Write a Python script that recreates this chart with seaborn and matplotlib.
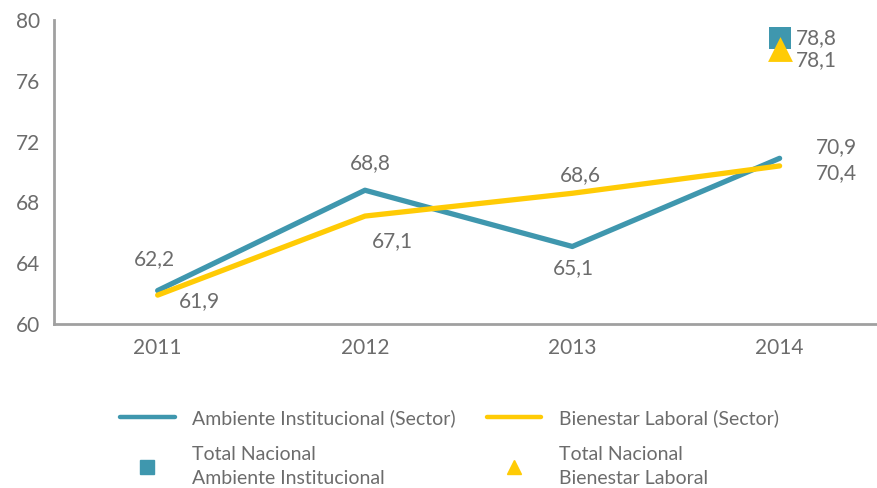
import matplotlib
matplotlib.use("Agg")
import matplotlib.pyplot as plt
import seaborn as sns
import pandas as pd
from matplotlib.lines import Line2D

years = ["2011", "2012", "2013", "2014"]
ambiente = [62.2, 68.8, 65.1, 70.9]
bienestar = [61.9, 67.1, 68.6, 70.4]
total_ambiente = 78.8
total_bienestar = 78.1
yticks = [60, 64, 68, 72, 76, 80]

TEAL = "#3F97AE"
YELLOW = "#FFCB05"
GREY_TXT = "#6c6c6c"
AXIS = "#a0a0a0"

sns.set_theme(style="white")
plt.rcParams["font.family"] = ["Lato", "DejaVu Sans"]

df = pd.DataFrame({
    "x": list(range(4)) * 2,
    "value": ambiente + bienestar,
    "serie": ["Ambiente Institucional (Sector)"] * 4 + ["Bienestar Laboral (Sector)"] * 4,
})

fig = plt.figure(figsize=(8.78, 4.88), dpi=100)
ax = fig.add_axes([54 / 878, 1 - 324 / 488, 1 - 54 / 878 + 0.006, (324 - 20) / 488])

sns.lineplot(data=df, x="x", y="value", hue="serie",
             palette=[TEAL, YELLOW], linewidth=3.8, ax=ax, legend=False,
             solid_capstyle="round")

ax.scatter([3], [total_ambiente], marker="s", s=250, color=TEAL, zorder=5, linewidths=0)
ax.scatter([3], [total_bienestar], marker="^", s=320, color=YELLOW, zorder=6, linewidths=0)

fs = 15
def lab(x, y, s, dx, dy, ha="center"):
    ax.annotate(s, (x, y), xytext=(dx, dy), textcoords="offset points",
                ha=ha, va="center", fontsize=fs, color=GREY_TXT)

fmt = lambda v: f"{v:.1f}".replace(".", ",")
lab(0, ambiente[0], fmt(ambiente[0]), -2, 22.5)
lab(0, bienestar[0], fmt(bienestar[0]), 30, -4)
lab(1, ambiente[1], fmt(ambiente[1]), 3.6, 19.4)
lab(1, bienestar[1], fmt(bienestar[1]), 20, -18)
lab(2, bienestar[2], fmt(bienestar[2]), 6, 13)
lab(2, ambiente[2], fmt(ambiente[2]), 1, -15.5)
lab(3, ambiente[3], fmt(ambiente[3]), 26, 8, ha="left")
lab(3, bienestar[3], fmt(bienestar[3]), 26, -5, ha="left")
lab(3, total_ambiente, fmt(total_ambiente), 11.5, 0, ha="left")
lab(3, total_bienestar, fmt(total_bienestar), 11.5, -8, ha="left")

ax.set_xlim(-0.5, 3.5)
ax.set_ylim(60, 80)
ax.set_yticks(yticks)
ax.set_yticklabels([str(v) for v in yticks], fontsize=fs, color=GREY_TXT)
ax.set_xticks(range(4))
ax.set_xticklabels(years, fontsize=fs, color=GREY_TXT)
ax.set_xticks([-0.5, 0.5, 1.5, 2.5, 3.5], minor=True)
ax.tick_params(axis="x", which="major", length=0, pad=10)
ax.tick_params(axis="x", which="minor", length=6, width=2, color=AXIS, direction="out")
ax.tick_params(axis="y", length=6, width=2, color=AXIS, direction="out", pad=4)
ax.set_xlabel("")
ax.set_ylabel("")
for s in ["top", "right"]:
    ax.spines[s].set_visible(False)
for s in ["left", "bottom"]:
    ax.spines[s].set_color(AXIS)
    ax.spines[s].set_linewidth(2)

handles = [
    Line2D([], [], color=TEAL, lw=3.2, solid_capstyle="round"),
    Line2D([], [], color=TEAL, marker="s", ls="", markersize=10),
    Line2D([], [], color=YELLOW, lw=3.2, solid_capstyle="round"),
    Line2D([], [], color=YELLOW, marker="^", ls="", markersize=10),
]
labels = ["Ambiente Institucional (Sector)", "Total Nacional\nAmbiente Institucional",
          "Bienestar Laboral (Sector)", "Total Nacional\nBienestar Laboral"]
leg = fig.legend(handles, labels, ncol=2, loc="center", bbox_to_anchor=(0.512, 0.082),
                 frameon=False, fontsize=14, handlelength=2.8, handletextpad=0.9,
                 columnspacing=1.6, labelspacing=1.0, labelcolor=GREY_TXT)
for t in leg.get_texts():
    t.set_linespacing(1.5)

fig.savefig("out.png", dpi=100)
